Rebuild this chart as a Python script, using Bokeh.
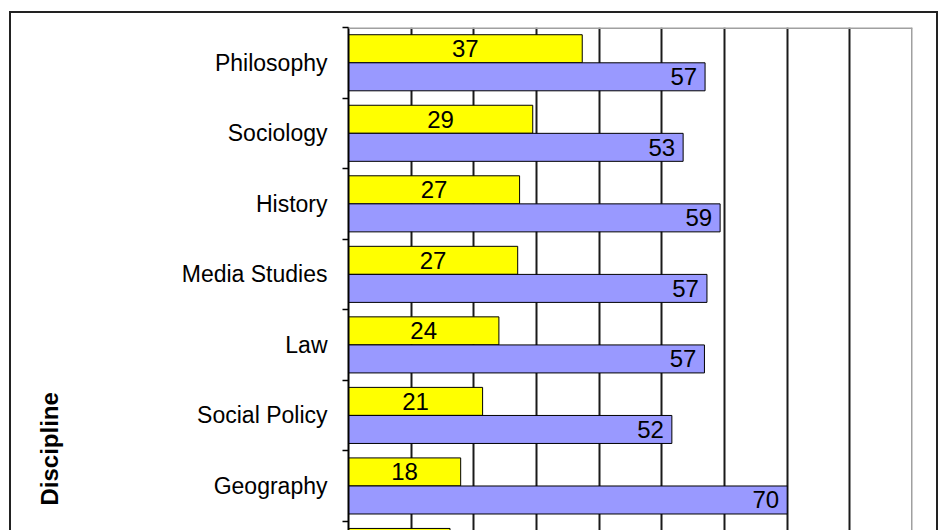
from bokeh.plotting import figure
from bokeh.models import ColumnDataSource, Range1d, FixedTicker, Span, Title
from bokeh.embed import file_html
from bokeh.resources import INLINE
from bokeh.transform import dodge
from bokeh.core.properties import value

# ---- data ----
disciplines = ["Philosophy", "Sociology", "History", "Media Studies", "Law",
               "Social Policy", "Geography", ""]          # 8th category name is cut off
series_yellow = [37.3, 29.4, 27.3, 27.0, 24.0, 21.4, 17.9, 16.2]
series_blue = [56.9, 53.4, 59.3, 57.2, 56.8, 51.6, 70.0]  # 8th value is cut off
x_ticks = [0, 10, 20, 30, 40, 50, 60, 70, 80, 90]
axis_title = "Discipline"

FONT = "Liberation Sans"

pos_y = list(range(len(series_yellow)))
pos_b = list(range(len(series_blue)))
n_lab = len(series_blue)  # rows whose labels are visible
src_y = ColumnDataSource(dict(y=pos_y, v=series_yellow))
src_b = ColumnDataSource(dict(y=pos_b, v=series_blue))
src_ly = ColumnDataSource(dict(
    y=pos_y[:n_lab], half=[v / 2 for v in series_yellow[:n_lab]],
    lab=[f"{v:.0f}" for v in series_yellow[:n_lab]]))
src_lb = ColumnDataSource(dict(
    y=pos_b, v=series_blue, lab=[f"{v:.0f}" for v in series_blue]))

p = figure(width=929, height=519, output_backend="svg", toolbar_location=None,
           x_range=Range1d(x_ticks[0], x_ticks[-1]), y_range=Range1d(6.66, -0.5),
           x_axis_location=None,
           min_border_left=337, min_border_right=28, min_border_top=14, min_border_bottom=0)
p.outline_line_color = None
p.background_fill_color = "white"
p.border_fill_color = "white"
p.styles = {"border-left": "2px solid #222", "border-top": "2px solid #222",
            "border-right": "2px solid #222", "margin-top": "11px", "margin-left": "9px"}

# grid
p.xgrid.ticker = FixedTicker(ticks=x_ticks[1:-1])
p.xgrid.grid_line_color = "#1a1a1a"
p.xgrid.grid_line_width = 2
p.ygrid.visible = False

# plot-area border pieces (top & right, gray)
p.add_layout(Span(location=-0.5, dimension="width", line_color="#a0a0a0", line_width=3))
p.add_layout(Span(location=x_ticks[-1], dimension="height", line_color="#a0a0a0", line_width=3))

# y axis: labels at centres, tick marks at boundaries
ya = p.yaxis[0]
ya.ticker = FixedTicker(ticks=pos_y, minor_ticks=[i - 0.5 for i in range(len(pos_y) + 1)])
ya.major_label_overrides = {i: d for i, d in enumerate(disciplines)}
ya.axis_line_color = "black"
ya.axis_line_width = 2
ya.major_tick_out = 0
ya.major_tick_in = 0
ya.minor_tick_out = 6
ya.minor_tick_in = 0
ya.minor_tick_line_color = "black"
ya.minor_tick_line_width = 1.5
ya.major_label_standoff = 15
ya.major_label_text_font = FONT
ya.major_label_text_font_size = "23px"
ya.major_label_text_color = "black"
# blank axis label used only as spacing between the tick labels and the title
ya.axis_label = " "
ya.axis_label_text_font_size = "4px"
ya.axis_label_standoff = 98

OFF = 0.199
H = 0.397
p.hbar(y=dodge("y", -OFF), left=0, right="v", height=H, fill_color="#FFFF00",
       line_color="black", line_width=1, source=src_y)
p.hbar(y=dodge("y", OFF), left=0, right="v", height=H, fill_color="#9999FF",
       line_color="black", line_width=1, source=src_b)

p.text(x="half", y=dodge("y", -OFF), text="lab", text_align="center", text_baseline="middle",
       text_font=value(FONT), text_font_size="24px", text_color="black", source=src_ly)
p.text(x="v", y=dodge("y", OFF), text="lab", x_offset=-8, text_align="right",
       text_baseline="middle", text_font=value(FONT), text_font_size="24px",
       text_color="black", source=src_lb)

p.add_layout(Title(text=axis_title, align="left", offset=27, standoff=20,
                   text_font=FONT, text_font_style="bold", text_font_size="24px",
                   text_color="black"), "left")

open("out.html", "w").write(file_html(p, INLINE))
